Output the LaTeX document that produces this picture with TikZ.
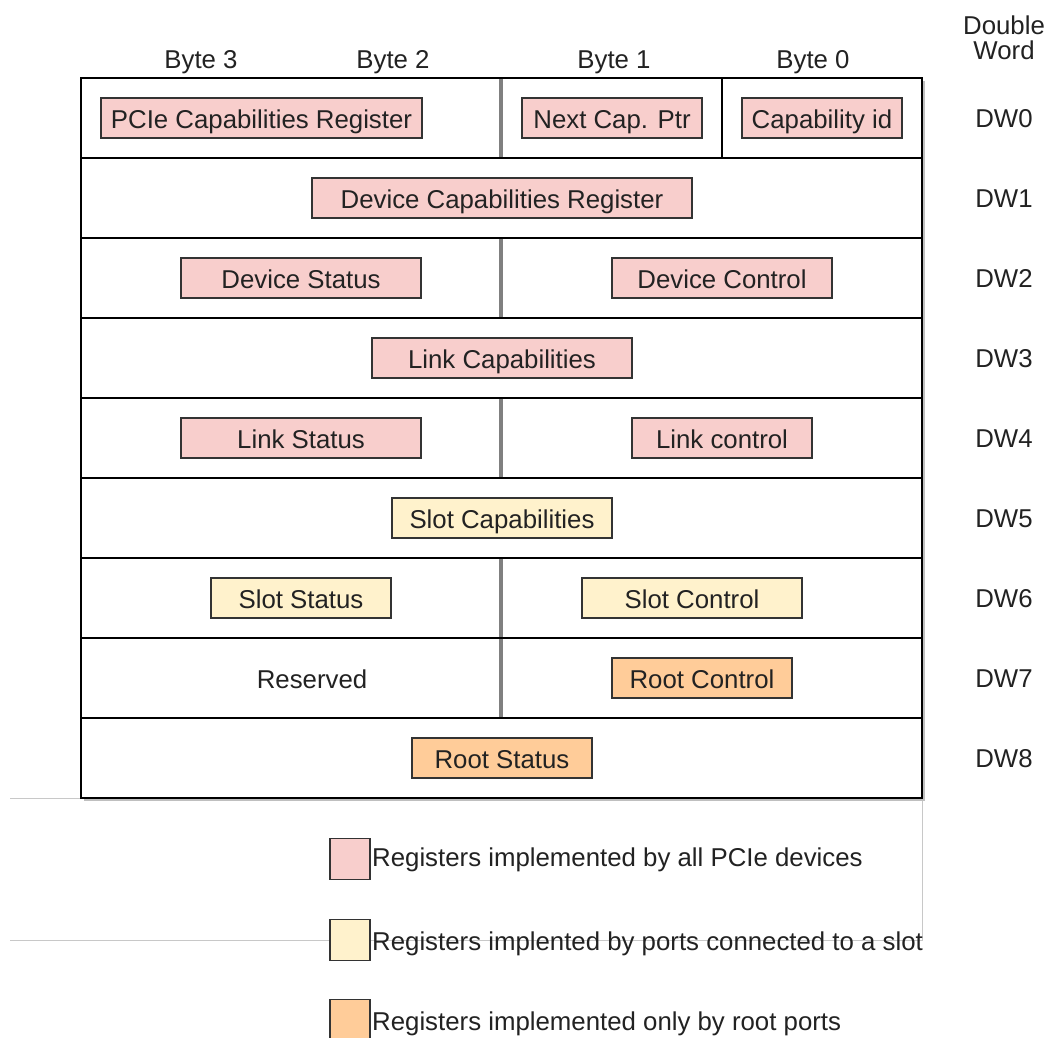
\documentclass[tikz,border=0pt]{standalone}
\usepackage{fontspec}
\setmainfont{Liberation Sans}
\definecolor{allpcie}{HTML}{F8CECC}
\definecolor{slotreg}{HTML}{FFF2CC}
\definecolor{rootreg}{HTML}{FFCC99}
\definecolor{boxline}{HTML}{333333}
\definecolor{textgray}{HTML}{222222}
\definecolor{divgray}{HTML}{808080}
\definecolor{guide}{HTML}{C8C8C8}
\begin{document}
\begin{tikzpicture}[x=1pt,y=-1pt,
  txt/.style={text=textgray, font=\fontsize{25.8}{30}\selectfont, inner sep=0pt,
              text height=20pt, text depth=0pt},
  reg/.style={txt, draw=boxline, line width=1.6pt, minimum height=40pt, inner sep=0pt},
  pinkreg/.style={reg, fill=allpcie},
  yellowreg/.style={reg, fill=slotreg},
  orangereg/.style={reg, fill=rootreg},
  grid/.style={draw=black, line width=2pt},
  middiv/.style={draw=divgray, line width=3.5pt},
  guideline/.style={draw=guide, line width=1pt},
  legbox/.style={draw=boxline, line width=1.6pt, minimum width=40pt, minimum height=41pt, inner sep=0pt}
]
\useasboundingbox (0,0) rectangle (1049,1037);
\fill[white] (0,0) rectangle (1049,1037);

% faint container edges
\draw[guideline] (10,798) -- (81,798);
\draw[guideline] (10,940) -- (922,940) -- (922,798);

% table shadow and frame
\fill[black!25] (84,81) rectangle (925,801);
\fill[white] (81,78) rectangle (922,798);
\foreach \y in {158,238,318,398,478,558,638,718}
  \draw[grid] (81,\y) -- (922,\y);
% split rows: byte 3-2 | byte 1-0
\foreach \t/\b in {78/158,238/318,398/478,558/638,638/718}
  \draw[middiv] (501,\t+1) -- (501,\b-1);
\draw[black, line width=1.5pt] (722,78) -- (722,158);
\draw[grid] (81,78) rectangle (922,798);

% column headers
\node[txt] (b3) at (201,58) {Byte 3};
\node[txt] (b2) at (393,58) {Byte 2};
\node[txt] (b1) at (614,58) {Byte 1};
\node[txt] (b0) at (813,58) {Byte 0};
\node[text=textgray, inner sep=0pt, anchor=base, font=\fontsize{25.8}{21.5}\selectfont] (dw) at (1004,34)
  {\begin{tabular}[t]{@{}c@{}}Double\\Word\end{tabular}};

% double word labels
\foreach \i in {0,...,8}
  \node[txt] (dw\i) at (1004,117+80*\i) {DW\i};

% DW0
\node[pinkreg, minimum width=321pt] (pcap) at (261.5,118) {PCIe Capabilities Register};
\node[pinkreg, minimum width=180pt] (nxt) at (612,118) {Next Cap. Ptr};
\node[pinkreg, minimum width=160pt] (capid) at (822,118) {Capability id};
% DW1
\node[pinkreg, minimum width=380pt] (devcap) at (502,198) {Device Capabilities Register};
% DW2
\node[pinkreg, minimum width=240pt] (devst) at (301,278) {Device Status};
\node[pinkreg, minimum width=220pt] (devctl) at (722,278) {Device Control};
% DW3
\node[pinkreg, minimum width=260pt] (linkcap) at (502,358) {Link Capabilities};
% DW4
\node[pinkreg, minimum width=240pt] (linkst) at (301,438) {Link Status};
\node[pinkreg, minimum width=180pt] (linkctl) at (722,438) {Link control};
% DW5
\node[yellowreg, minimum width=220pt] (slotcap) at (502,518) {Slot Capabilities};
% DW6
\node[yellowreg, minimum width=180pt] (slotst) at (301,598) {Slot Status};
\node[yellowreg, minimum width=220pt] (slotctl) at (692,598) {Slot Control};
% DW7
\node[txt] (rsvd) at (312,678) {Reserved};
\node[orangereg, minimum width=180pt] (rootctl) at (702,678) {Root Control};
% DW8
\node[orangereg, minimum width=180pt] (rootst) at (502,758) {Root Status};

% legend
\node[legbox, fill=allpcie] (lg1) at (350,859) {};
\node[legbox, fill=slotreg] (lg2) at (350,940) {};
\node[legbox, fill=rootreg] (lg3) at (350,1020) {};
\node[txt, anchor=west] (lt1) at (372,856) {Registers implemented by all PCIe devices};
\node[txt, anchor=west] (lt2) at (372,940) {Registers implented by ports connected to a slot};
\node[txt, anchor=west] (lt3) at (372,1020) {Registers implemented only by root ports};
\end{tikzpicture}
\end{document}
